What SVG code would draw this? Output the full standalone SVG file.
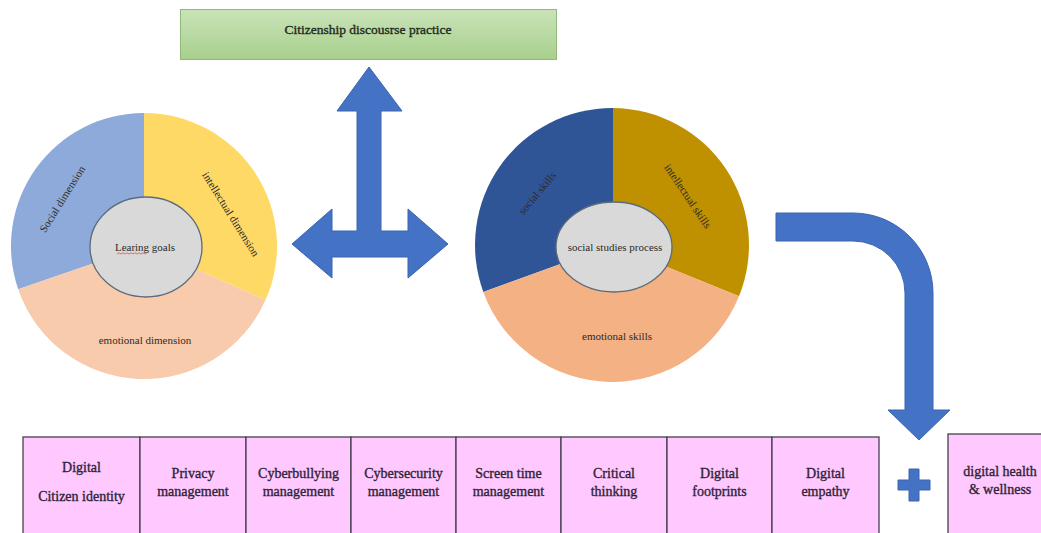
<svg xmlns="http://www.w3.org/2000/svg" width="1041" height="533" viewBox="0 0 1041 533">
<defs>
<linearGradient id="gGreen" x1="0" y1="0" x2="0" y2="1">
<stop offset="0" stop-color="#c9e3b8"/>
<stop offset="1" stop-color="#a8d08d"/>
</linearGradient>
</defs>
<style>
.lbl{font-family:"Liberation Serif","Times New Roman",serif;font-size:11px;fill:#2b2b2b;text-anchor:middle}
.box{fill:#ffc9ff;stroke:#45404f;stroke-width:1.3}
.bt{font-family:"Liberation Serif","Times New Roman",serif;font-size:14px;fill:#2e2438;stroke:#2e2438;stroke-width:0.35;text-anchor:middle}
.arrow{fill:#4472c4;stroke:#3a64b0;stroke-width:1}
.hub{fill:#d9d9d9;stroke:#5b6b7b;stroke-width:1.3}
</style>
<rect width="1041" height="533" fill="#ffffff"/>

<g id="citizenship-box">
<rect x="180.5" y="9.5" width="376" height="50" fill="url(#gGreen)" stroke="#94b87c" stroke-width="1"/>
<text x="368" y="34" font-family="Liberation Serif, Times New Roman, serif" font-size="13.5" fill="#1e2a1a" stroke="#1e2a1a" stroke-width="0.35" text-anchor="middle">Citizenship discousrse practice</text>
</g>

<g id="learning-goals-donut">
<g id="social-dimension">
<path d="M144,246 L18.2,289.3 A133,133 0 0 1 144,113 Z" fill="#8eaadb"/>
<text class="lbl" transform="translate(62,199) rotate(-58)" dy="4">Social dimension</text>
</g>
<g id="intellectual-dimension">
<path d="M144,246 L144,113 A133,133 0 0 1 265.5,300.1 Z" fill="#ffd966"/>
<text class="lbl" transform="translate(231,214) rotate(58)" dy="4">intellectual dimension</text>
</g>
<g id="emotional-dimension">
<path d="M144,246 L265.5,300.1 A133,133 0 0 1 18.2,289.3 Z" fill="#f8cbad"/>
<text class="lbl" x="145" y="344">emotional dimension</text>
</g>
<g id="learning-goals">
<ellipse class="hub" cx="146" cy="247" rx="56" ry="50"/>
<text class="lbl" x="145" y="251">Learing goals</text>
<path d="M117,254 l2,-1.2 l2,1.2 l2,-1.2 l2,1.2 l2,-1.2 l2,1.2 l2,-1.2 l2,1.2 l2,-1.2 l2,1.2 l2,-1.2 l2,1.2 l2,-1.2 l2,1.2 l2,-1.2" fill="none" stroke="#d9534f" stroke-width="0.8"/>
</g>
</g>

<g id="social-studies-donut">
<g id="social-skills">
<path d="M613,245 L483.3,291.9 A137,137 0 0 1 613,108 Z" fill="#2f5597"/>
<text class="lbl" transform="translate(537,193) rotate(-50)" dy="4">social skills</text>
</g>
<g id="intellectual-skills">
<path d="M613,245 L613,108 A137,137 0 0 1 739,296.3 Z" fill="#bf9000"/>
<text class="lbl" transform="translate(688,196) rotate(56)" dy="4">intellectual skills</text>
</g>
<g id="emotional-skills">
<path d="M613,245 L739,296.3 A137,137 0 0 1 483.3,291.9 Z" fill="#f4b183"/>
<text class="lbl" x="617" y="340">emotional skills</text>
</g>
<g id="social-studies-process">
<ellipse class="hub" cx="614" cy="247" rx="58" ry="45"/>
<text class="lbl" x="615" y="251">social studies process</text>
</g>
</g>

<g id="connectors">
<path class="arrow" d="M369,67 L402,111 L381,111 L381,231 L408,231 L408,209 L448,244 L408,278 L408,257 L332,257 L332,278 L292,244 L332,209 L332,231 L357,231 L357,111 L337,111 Z"/>
<path class="arrow" d="M776,213 L853,213 A80,80 0 0 1 933,293 L933,410 L950,410 L919,440 L888,410 L905,410 L905,293 A52,52 0 0 0 853,241 L776,241 Z"/>
<path class="arrow" d="M909,469 h10 v11 h11 v10 h-11 v11 h-10 v-11 h-11 v-10 h11 Z"/>
</g>

<g id="competencies">
<g id="c1"><rect class="box" x="23" y="437" width="117" height="110"/>
<text class="bt" x="81.5" y="472">Digital</text><text class="bt" x="81.5" y="501">Citizen identity</text></g>
<g id="c2"><rect class="box" x="140" y="437" width="106" height="110"/>
<text class="bt" x="193" y="478">Privacy</text><text class="bt" x="193" y="496">management</text></g>
<g id="c3"><rect class="box" x="246" y="437" width="105" height="110"/>
<text class="bt" x="298.5" y="478">Cyberbullying</text><text class="bt" x="298.5" y="496">management</text></g>
<g id="c4"><rect class="box" x="351" y="437" width="105" height="110"/>
<text class="bt" x="403.5" y="478">Cybersecurity</text><text class="bt" x="403.5" y="496">management</text></g>
<g id="c5"><rect class="box" x="456" y="437" width="105" height="110"/>
<text class="bt" x="508.5" y="478">Screen time</text><text class="bt" x="508.5" y="496">management</text></g>
<g id="c6"><rect class="box" x="561" y="437" width="106" height="110"/>
<text class="bt" x="614" y="478">Critical</text><text class="bt" x="614" y="496">thinking</text></g>
<g id="c7"><rect class="box" x="667" y="437" width="105" height="110"/>
<text class="bt" x="719.5" y="478">Digital</text><text class="bt" x="719.5" y="496">footprints</text></g>
<g id="c8"><rect class="box" x="772" y="437" width="107" height="110"/>
<text class="bt" x="825.5" y="478">Digital</text><text class="bt" x="825.5" y="496">empathy</text></g>
<g id="c9"><rect class="box" x="948" y="434" width="110" height="113"/>
<text class="bt" x="1000" y="476">digital health</text><text class="bt" x="1000" y="494">&amp; wellness</text></g>
</g>
</svg>
